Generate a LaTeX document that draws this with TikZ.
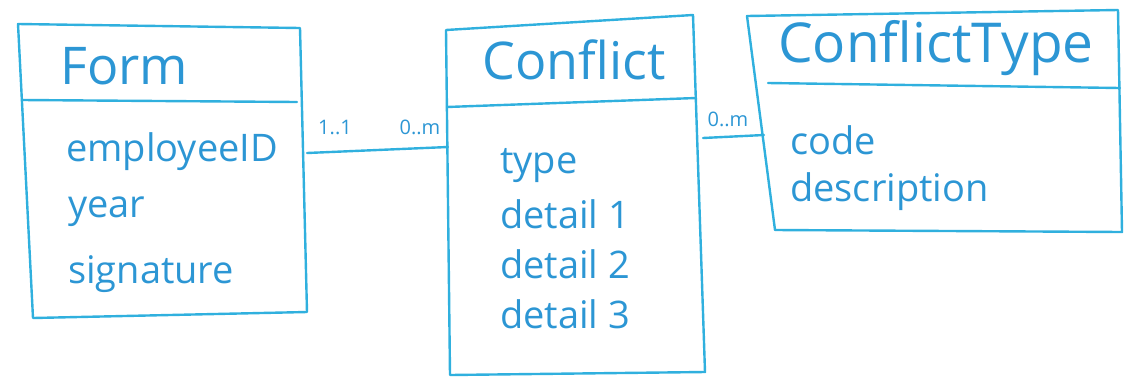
\documentclass[tikz,border=0pt]{standalone}
\usepackage{fontspec}
\setmainfont{Open Sans}
\definecolor{pen}{RGB}{48,176,222}
\definecolor{ink}{RGB}{44,150,212}
\tikzset{
  edge/.style={draw=pen, line width=2.4pt, line join=round, line cap=round},
  title/.style={text=ink, font=\fontsize{52}{56}\selectfont, inner sep=0pt, anchor=west},
  attr/.style={text=ink, font=\fontsize{38}{42}\selectfont, inner sep=0pt, anchor=west},
  mult/.style={text=ink, font=\fontsize{20}{22}\selectfont, inner sep=0pt}
}
\begin{document}
\begin{tikzpicture}[x=1pt,y=-1pt]
  \useasboundingbox (0,0) rectangle (1126,381);

  % Form entity
  \coordinate (f1) at (18,24);  \coordinate (f2) at (300,28);
  \coordinate (f3) at (307,312); \coordinate (f4) at (33,318);
  \draw[edge] (f1) -- (f2) -- (f3) -- (f4) -- cycle;
  \draw[edge] (22,100) -- (297,102);
  \node[title] (formT) at (60,66) {Form};
  \node[attr] (formA1) at (66,152) {employeeID};
  \node[attr] (formA2) at (68,212) {year};
  \node[attr] (formA3) at (68,274) {signature};

  % Conflict entity
  \coordinate (c1) at (446,30);  \coordinate (c2) at (693,15);
  \coordinate (c3) at (705,372); \coordinate (c4) at (450,375);
  \draw[edge] (c1) -- (c2) -- (c3) -- (c4) -- cycle;
  \draw[edge] (447,107) -- (696,98);
  \node[title] (confT) at (482,60) {Conflict};
  \node[attr] (confA1) at (500,166) {type};
  \node[attr] (confA2) at (500,214) {detail 1};
  \node[attr] (confA3) at (500,264) {detail 2};
  \node[attr] (confA4) at (500,314) {detail 3};

  % ConflictType entity
  \coordinate (t1) at (747,16);  \coordinate (t2) at (1118,10);
  \coordinate (t3) at (1122,232); \coordinate (t4) at (775,230);
  \draw[edge] (t1) -- (t2) -- (t3) -- (t4) -- cycle;
  \draw[edge] (768,83) -- (1120,88);
  \node[title, font=\fontsize{55}{58}\selectfont] (typeT) at (778,48) {ConflictType};
  \node[attr] (typeA1) at (790,140) {code};
  \node[attr] (typeA2) at (790,192) {description};

  % relationships
  \coordinate (formR) at (307,153);
  \coordinate (confL) at (448,147);
  \coordinate (confR) at (703,138);
  \coordinate (typeL) at (764,135);
  \draw[edge] (formR) -- (confL);
  \draw[edge] (confR) -- (typeL);
  \node[mult] (m1) at (335,127) {1..1};
  \node[mult] (m2) at (420,127) {0..m};
  \node[mult] (m3) at (728,119) {0..m};
\end{tikzpicture}
\end{document}
